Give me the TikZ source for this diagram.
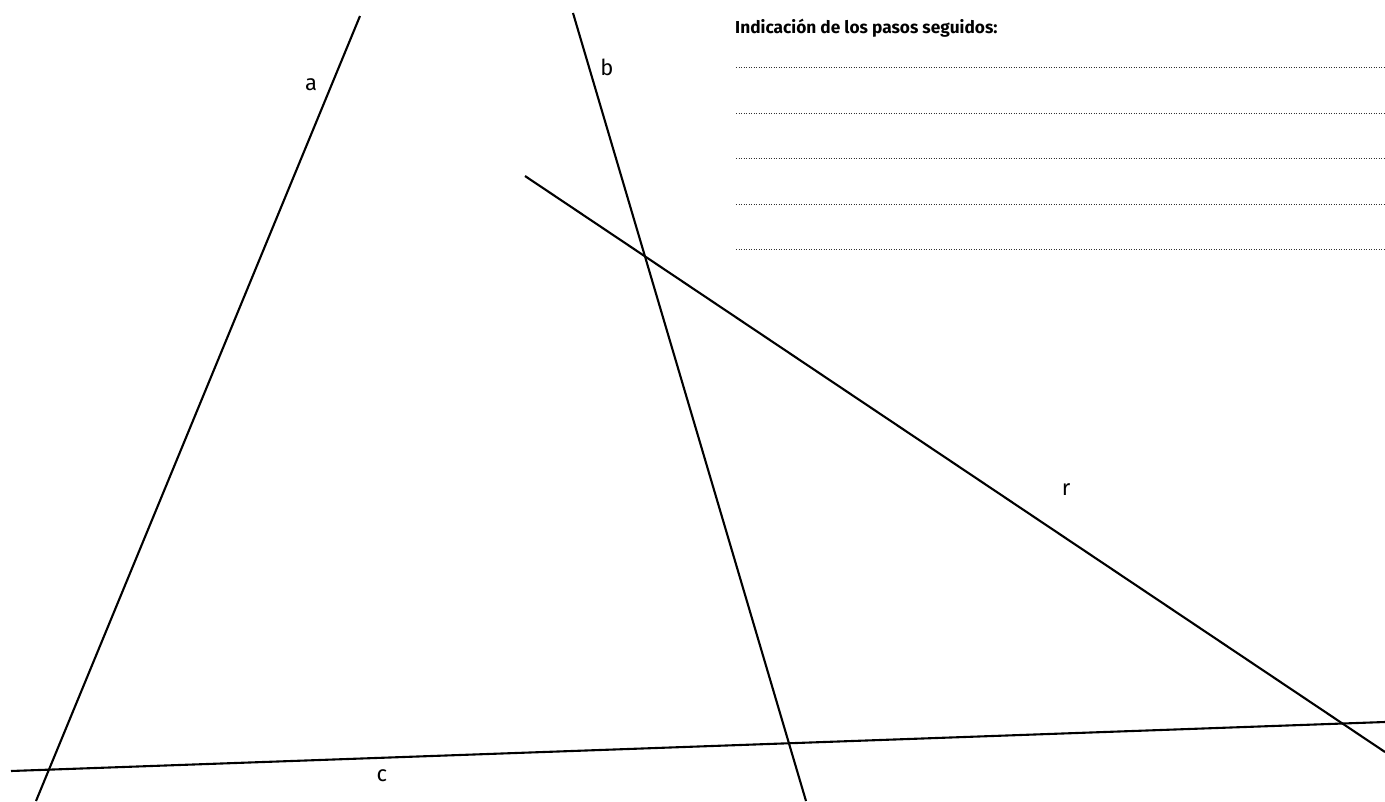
\documentclass[tikz,border=0pt]{standalone}
\usepackage{fontspec}
\setmainfont{Fira Sans}
\begin{document}
\begin{tikzpicture}[x=1pt,y=-1pt,
  ln/.style={line width=2.1pt,black},
  guide/.style={line width=0.7pt,black!80,dash pattern=on 1.2pt off 1.3pt},
  lbl/.style={font=\fontsize{22}{26}\selectfont,inner sep=0pt},
  title/.style={font=\fontsize{17.3}{20}\selectfont\bfseries,anchor=west,inner sep=0pt}]
\useasboundingbox (0,0) rectangle (1385,801);
% line endpoints
\coordinate (a1) at (360,16);   \coordinate (a2) at (36,801);
\coordinate (b1) at (573,13);   \coordinate (b2) at (806,801);
\coordinate (r1) at (525,176);  \coordinate (r2) at (1385,752);
\coordinate (c1) at (11,771);   \coordinate (c2) at (1385,722);
\draw[ln] (a1) -- (a2);
\draw[ln] (b1) -- (b2);
\draw[ln] (r1) -- (r2);
\draw[ln] (c1) -- (c2);
% labels
\node[lbl] (la) at (311,85) {a};
\node[lbl] (lb) at (607,67) {b};
\node[lbl] (lr) at (1066,490) {r};
\node[lbl] (lc) at (382,776) {c};
% title and guide lines
\node[title] (t) at (735,28) {Indicación de los pasos seguidos:};
\foreach \y [count=\i] in {67,113,158,204,249} {
  \coordinate (g\i a) at (736,\y);
  \coordinate (g\i b) at (1385,\y);
  \draw[guide] (g\i a) -- (g\i b);
}
\end{tikzpicture}
\end{document}
